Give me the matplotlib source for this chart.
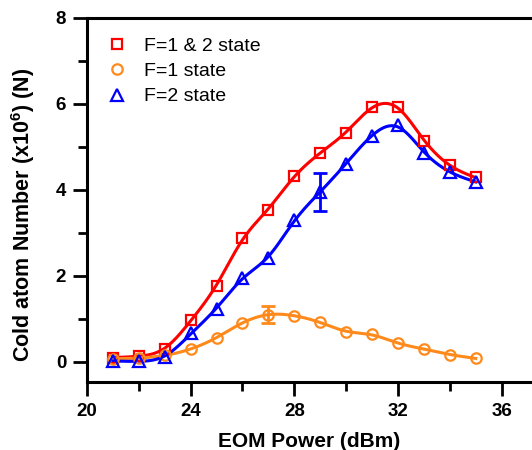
import numpy as np
import matplotlib.pyplot as plt
from matplotlib.ticker import MultipleLocator

plt.rcParams['font.family'] = ['Liberation Sans', 'DejaVu Sans']
plt.rcParams['mathtext.fontset'] = 'custom'
plt.rcParams['mathtext.bf'] = 'Liberation Sans:bold'
plt.rcParams['mathtext.rm'] = 'Liberation Sans:bold'

# EOM power (dBm)
power = np.arange(21, 36)

# cold atom number (x10^6)
n_both = [0.10, 0.14, 0.30, 0.97, 1.77, 2.87, 3.54, 4.32, 4.86, 5.33, 5.92, 5.93, 5.14, 4.57, 4.29]
n_f1 = [0.07, 0.09, 0.15, 0.30, 0.56, 0.91, 1.10, 1.07, 0.92, 0.70, 0.64, 0.43, 0.30, 0.17, 0.08]
n_f2 = [0.02, 0.02, 0.12, 0.66, 1.24, 1.96, 2.42, 3.30, 3.95, 4.61, 5.26, 5.50, 4.86, 4.42, 4.19]

# error bars shown on single points
err_f1_x, err_f1_y, err_f1 = 27, 1.10, 0.20
err_f2_x, err_f2_y, err_f2 = 29, 3.95, 0.45

red = '#ff0000'
orange = '#ff8a1c'
blue = '#0000ff'


# smooth curve through the points (Whittaker smoother on a fine grid)
def smooth_curve(x, y, lam=0.015, h=0.05):
    x = np.asarray(x, float)
    y = np.asarray(y, float)
    xf = np.arange(x[0], x[-1] + h / 2, h)
    n = len(xf)
    idx = np.round((x - x[0]) / h).astype(int)
    w = np.zeros(n)
    yy = np.zeros(n)
    w[idx] = 1.0
    yy[idx] = y
    D = np.diff(np.eye(n), 2, axis=0)
    A = np.diag(w) + (lam / h**3) * D.T @ D
    return xf, np.linalg.solve(A, w * yy)


fig = plt.figure(figsize=(5.32, 4.5), dpi=100)
ax = fig.add_axes([0.1635, 0.151, 0.8365, 0.809])

for y, c in [(n_both, red), (n_f1, orange), (n_f2, blue)]:
    xs, ys = smooth_curve(power, y)
    ax.plot(xs, ys, color=c, lw=2.2, zorder=2)

ax.errorbar(err_f1_x, err_f1_y, yerr=err_f1, color=orange, lw=2, capsize=5, capthick=2, zorder=3)
ax.errorbar(err_f2_x, err_f2_y, yerr=err_f2, color=blue, lw=2, capsize=5, capthick=2, zorder=3)

ax.plot(power, n_both, 's', ms=7, mfc='none', mec=red, mew=1.6, label='F=1 & 2 state', zorder=4)
ax.plot(power, n_f1, 'o', ms=7.5, mfc='none', mec=orange, mew=1.6, label='F=1 state', zorder=4)
ax.plot(power, n_f2, '^', ms=8.5, mfc='none', mec=blue, mew=1.6, label='F=2 state', zorder=4)

ax.set_xlim(20, 37.17)
ax.set_ylim(-0.47, 8)
ax.xaxis.set_major_locator(MultipleLocator(4))
ax.xaxis.set_minor_locator(MultipleLocator(2))
ax.yaxis.set_major_locator(MultipleLocator(2))
ax.yaxis.set_minor_locator(MultipleLocator(1))

for s in ['left', 'bottom', 'top']:
    ax.spines[s].set_linewidth(2.2)
ax.spines['right'].set_visible(False)
ax.tick_params(which='major', direction='out', length=10, width=2, labelsize=13.5, pad=5)
ax.tick_params(which='minor', direction='out', length=6.5, width=2)
ax.tick_params(top=False, right=False)
for lab in ax.get_xticklabels() + ax.get_yticklabels():
    lab.set_fontweight('bold')

ax.set_xlabel('EOM Power (dBm)', fontsize=15, fontweight='bold', labelpad=9)
ax.set_ylabel(r'Cold atom Number (x10$^{6}$) (N)', fontsize=15.5, fontweight='bold')
ax.yaxis.set_label_coords(-0.112, 0.459)

ax.legend(loc='upper left', frameon=False, fontsize=14, handlelength=1.0,
          handletextpad=0.9, labelspacing=0.4, borderaxespad=0, borderpad=0,
          bbox_to_anchor=(0.045, 0.948))

fig.savefig('out.png', dpi=100)
